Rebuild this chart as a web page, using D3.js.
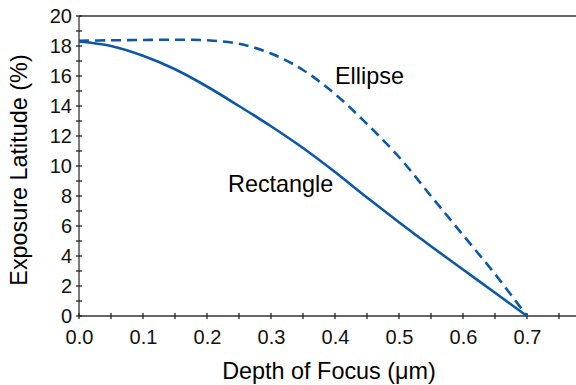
<!DOCTYPE html>
<html>
<head>
<meta charset="utf-8">
<script src="https://cdn.jsdelivr.net/npm/d3@7"></script>
<style>
  body { margin: 0; background: #fff; }
  svg { display: block; font-family: "Liberation Sans", Arial, sans-serif; }
  .tick text { font-size: 20px; fill: #111; }
</style>
</head>
<body>
<svg width="576" height="385"></svg>
<script>
// depth of focus (um)
var depth = [0, 0.05, 0.1, 0.15, 0.2, 0.25, 0.3, 0.35, 0.4, 0.45, 0.5, 0.55, 0.6, 0.65, 0.7];
// exposure latitude (%)
var rectangle = [18.3, 18.0, 17.35, 16.45, 15.3, 14.0, 12.65, 11.2, 9.6, 7.9, 6.25, 4.65, 3.1, 1.55, 0];
var ellipse = [18.35, 18.38, 18.4, 18.42, 18.38, 18.15, 17.5, 16.4, 14.8, 12.8, 10.6, 8.0, 5.4, 2.8, 0];

var xTicks = [0, 0.1, 0.2, 0.3, 0.4, 0.5, 0.6, 0.7];
var yTicks = [0, 2, 4, 6, 8, 10, 12, 14, 16, 18, 20];

var svg = d3.select('svg');
var blue = '#0a58a6';

// **** scales ****
var x = d3.scaleLinear().domain([0, 0.7]).range([79, 527]);
var y = d3.scaleLinear().domain([0, 20]).range([316, 16]);

// minor ticks, crossing the axis
var xMinor = d3.range(0, 0.76, 0.05);
var yMinor = d3.range(0, 21, 1);

svg.append('line')
    .attr('x1', 79).attr('x2', 576)
    .attr('y1', 16).attr('y2', 16)
    .attr('stroke', '#333').attr('stroke-width', 1.3);

svg.append('line')
    .attr('x1', 79).attr('x2', 576)
    .attr('y1', 316).attr('y2', 316)
    .attr('stroke', '#333').attr('stroke-width', 1.3);

svg.append('line')
    .attr('x1', 79).attr('x2', 79)
    .attr('y1', 16).attr('y2', 316)
    .attr('stroke', '#333').attr('stroke-width', 1.3);

svg.append('g').selectAll('line')
    .data(xMinor)
    .enter().append('line')
    .attr('x1', function(d){ return x(d); })
    .attr('x2', function(d){ return x(d); })
    .attr('y1', 313).attr('y2', 319)
    .attr('stroke', '#222').attr('stroke-width', 1.3);

svg.append('g').selectAll('line')
    .data(yMinor)
    .enter().append('line')
    .attr('x1', 76).attr('x2', 82)
    .attr('y1', function(d){ return y(d); })
    .attr('y2', function(d){ return y(d); })
    .attr('stroke', '#222').attr('stroke-width', 1.3);

// tick labels through d3 axes, with lines hidden
var xAxis = svg.append('g')
    .attr('transform', 'translate(0,316)')
    .call(d3.axisBottom(x).tickValues(xTicks).tickFormat(d3.format('.1f')).tickSize(0).tickPadding(14));
xAxis.select('.domain').remove();
xAxis.selectAll('text').attr('dy', '0.71em');

var yAxis = svg.append('g')
    .attr('transform', 'translate(79,0)')
    .call(d3.axisLeft(y).tickValues(yTicks).tickSize(0).tickPadding(7));
yAxis.select('.domain').remove();

// **** curves ****
var line = d3.line()
    .x(function(d, i){ return x(depth[i]); })
    .y(function(d){ return y(d); })
    .curve(d3.curveCatmullRom.alpha(0.5));

svg.append('path')
    .datum(ellipse)
    .attr('d', line)
    .attr('fill', 'none')
    .attr('stroke', blue)
    .attr('stroke-width', 2.6)
    .attr('stroke-dasharray', '10,6');

svg.append('path')
    .datum(rectangle)
    .attr('d', line)
    .attr('fill', 'none')
    .attr('stroke', blue)
    .attr('stroke-width', 2.6);

// **** labels ****
svg.append('text')
    .attr('x', 335).attr('y', 84)
    .style('font-size', '23.4px')
    .text('Ellipse');

svg.append('text')
    .attr('x', 228).attr('y', 192)
    .style('font-size', '23.4px')
    .text('Rectangle');

svg.append('text')
    .attr('text-anchor', 'middle')
    .attr('transform', 'translate(329,379)')
    .style('font-size', '23.4px')
    .text('Depth of Focus (\u03bcm)');

svg.append('text')
    .attr('text-anchor', 'middle')
    .attr('transform', 'translate(27,170) rotate(-90)')
    .style('font-size', '23.4px')
    .text('Exposure Latitude (%)');
</script>
</body>
</html>
